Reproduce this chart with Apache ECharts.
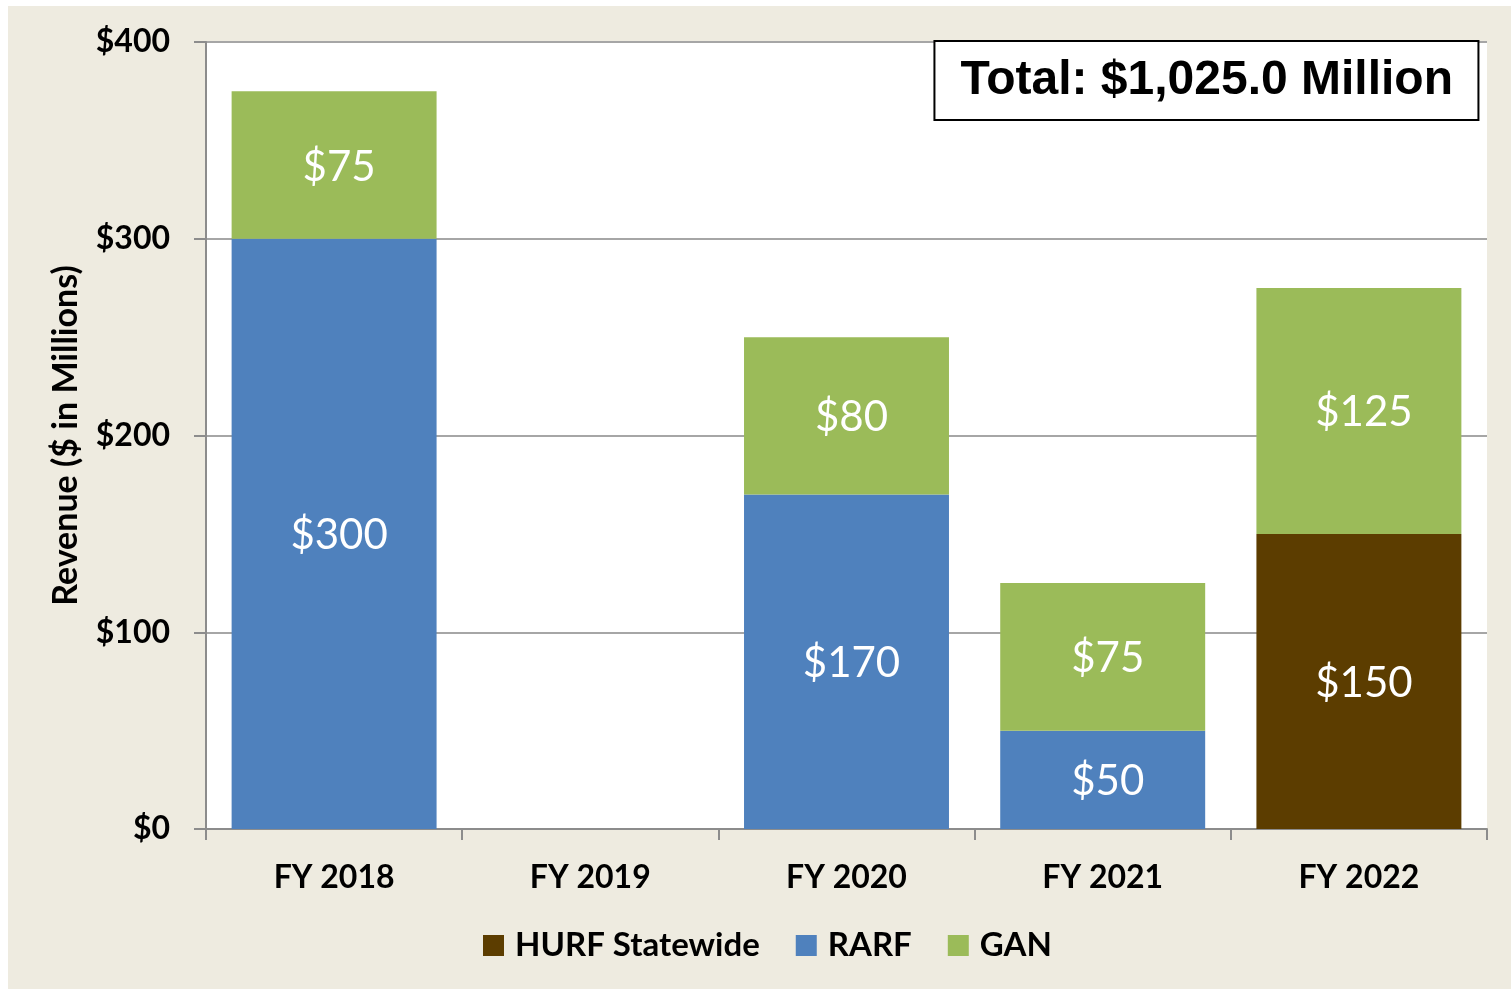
<!DOCTYPE html>
<html>
<head>
<meta charset="utf-8">
<script src="https://cdn.jsdelivr.net/npm/echarts@6/dist/echarts.min.js"></script>
<style>
  html, body { margin: 0; padding: 0; background: #ffffff; }
  #chart { position: absolute; left: 8px; top: 6px; width: 1503px; height: 983px; }
</style>
</head>
<body>
<div id="chart"></div>
<script>
// values in $ millions
const years = ["FY 2018", "FY 2019", "FY 2020", "FY 2021", "FY 2022"];
const hurf = [null, null, null, null, 150];
const rarf = [300, null, 170, 50, null];
const gan = [75, null, 80, 75, 125];
const totalText = "Total: $1,025.0 Million";

const labelFont = "Lato, 'Open Sans', sans-serif";

let chart = echarts.init(document.getElementById("chart"));

function barSeries(name, data, color) {
  return {
    name: name,
    type: "bar",
    stack: "total",
    barWidth: "80%",
    data: data,
    itemStyle: { color: color },
    label: {
      show: true,
      position: "inside",
      offset: [5, 2],
      color: "#ffffff",
      fontFamily: labelFont,
      fontSize: 42,
      formatter: function (p) {
        return p.value == null ? "" : "$" + p.value;
      },
    },
  };
}

let option = {
  backgroundColor: "#EEEBE0",
  animation: false,
  title: {
    text: totalText,
    right: 32,
    top: 35,
    padding: [16, 26, 15, 26],
    backgroundColor: "#ffffff",
    borderColor: "#000000",
    borderWidth: 2,
    textStyle: {
      fontFamily: "'Liberation Sans', Arial, sans-serif",
      fontWeight: "bold",
      fontSize: 48,
      color: "#000000",
    },
  },
  legend: {
    data: ["HURF Statewide", "RARF", "GAN"],
    bottom: 22,
    left: 470,
    icon: "rect",
    itemWidth: 21,
    itemHeight: 21,
    itemGap: 36,
    textStyle: {
      fontFamily: labelFont,
      fontWeight: "bold",
      fontSize: 33,
      color: "#000000",
      padding: [0, 0, 0, 6],
    },
  },
  grid: {
    left: 198,
    right: 24,
    top: 36,
    bottom: 160,
    show: true,
    backgroundColor: "#ffffff",
    borderWidth: 0,
  },
  xAxis: {
    type: "category",
    data: years,
    boundaryGap: true,
    axisLine: { lineStyle: { color: "#8c8c8c", width: 2 } },
    axisTick: { show: true, length: 11, lineStyle: { color: "#8c8c8c", width: 2 } },
    axisLabel: {
      margin: 33,
      color: "#000000",
      fontFamily: labelFont,
      fontWeight: "bold",
      fontSize: 32,
    },
  },
  yAxis: {
    type: "value",
    min: 0,
    max: 400,
    interval: 100,
    name: "Revenue ($ in Millions)",
    nameLocation: "middle",
    nameGap: 123,
    nameTextStyle: {
      color: "#000000",
      fontFamily: labelFont,
      fontWeight: "bold",
      fontSize: 34,
    },
    axisLine: { show: true, lineStyle: { color: "#8c8c8c", width: 2 } },
    axisTick: { show: true, length: 12, lineStyle: { color: "#8c8c8c", width: 2 } },
    splitLine: { lineStyle: { color: "#a6a6a6", width: 2 } },
    axisLabel: {
      margin: 36,
      formatter: "${value}",
      color: "#000000",
      fontFamily: labelFont,
      fontWeight: "bold",
      fontSize: 32,
    },
  },
  series: [
    barSeries("HURF Statewide", hurf, "#5C3D00"),
    barSeries("RARF", rarf, "#4F81BD"),
    barSeries("GAN", gan, "#9BBB59"),
  ],
};

chart.setOption(option);
window.addEventListener("resize", function () { chart.resize(); });
</script>
</body>
</html>
